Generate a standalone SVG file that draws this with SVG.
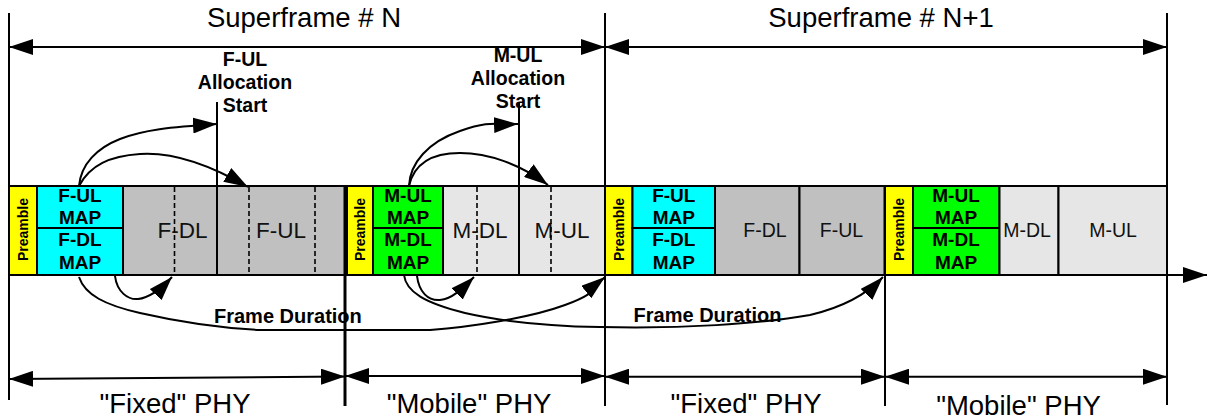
<svg xmlns="http://www.w3.org/2000/svg" width="1207" height="420" viewBox="0 0 1207 420">
<style>
.cell{stroke:#000;stroke-width:2}
.pre{fill:#ffff00}
.cy{fill:#00ffff}
.gn{fill:#00ff00}
.fg{fill:#c0c0c0}
.mg{fill:#e6e6e6}
.ln{stroke:#000;stroke-width:2;fill:none}
.dash{stroke:#000;stroke-width:1.6;stroke-dasharray:5 3;fill:none}
.cv{stroke:#000;stroke-width:2;fill:none;marker-end:url(#ah)}
.dim{stroke:#000;stroke-width:2;fill:none;marker-start:url(#ah);marker-end:url(#ah)}
text{font-family:"Liberation Sans",Arial,Helvetica,sans-serif;fill:#000}
.big{font-size:27.5px;text-anchor:middle}
.lab{font-size:22.5px;text-anchor:middle;fill:#111}
.map{font-size:19px;font-weight:bold;text-anchor:middle}
.pt{font-size:14px;font-weight:bold;text-anchor:middle}
.al{font-size:19.5px;font-weight:bold;text-anchor:middle}
.fd{font-size:20px;font-weight:bold}
</style>
<defs>
<marker id="ah" viewBox="0 0 24 16" refX="24" refY="8" markerWidth="24" markerHeight="16" markerUnits="userSpaceOnUse" orient="auto-start-reverse">
<path d="M0,0 L24,8 L0,16 z" fill="#000"/>
</marker>
</defs>
<rect width="1207" height="420" fill="#fff"/>

<!-- Superframe N -->
<g id="preamble-1">
<rect class="cell pre" x="9" y="186" width="28" height="89"/>
<text class="pt" transform="translate(27.5,229.5) rotate(-90)">Preamble</text>
</g>
<g id="fmap-1">
<rect class="cell cy" x="37" y="186" width="86" height="42"/>
<rect class="cell cy" x="37" y="228" width="86" height="47"/>
<text class="map" x="80" y="202.3">F-UL</text>
<text class="map" x="80" y="224">MAP</text>
<text class="map" x="80" y="246">F-DL</text>
<text class="map" x="80" y="269.3">MAP</text>
</g>
<g id="fdl-1">
<rect class="cell fg" x="123" y="186" width="94" height="89"/>
<text class="lab" x="182.5" y="238.3">F-DL</text>
<line class="dash" x1="174.5" y1="187" x2="174.5" y2="274"/>
</g>
<g id="ful-1">
<rect class="cell fg" x="217" y="186" width="128" height="89"/>
<text class="lab" x="281" y="238.3">F-UL</text>
<line class="dash" x1="249" y1="187" x2="249" y2="274"/>
<line class="dash" x1="315" y1="187" x2="315" y2="274"/>
</g>
<g id="preamble-2">
<rect class="cell pre" x="347" y="186" width="26" height="89"/>
<text class="pt" transform="translate(364.5,229.5) rotate(-90)">Preamble</text>
</g>
<g id="mmap-1">
<rect class="cell gn" x="373" y="186" width="70" height="42"/>
<rect class="cell gn" x="373" y="228" width="70" height="47"/>
<text class="map" x="408" y="202.3">M-UL</text>
<text class="map" x="408" y="224">MAP</text>
<text class="map" x="408" y="246">M-DL</text>
<text class="map" x="408" y="269.3">MAP</text>
</g>
<g id="mdl-1">
<rect class="cell mg" x="443" y="186" width="76" height="89"/>
<text class="lab" x="480" y="238">M-DL</text>
<line class="dash" x1="477" y1="187" x2="477" y2="274"/>
</g>
<g id="mul-1">
<rect class="cell mg" x="519" y="186" width="86" height="89"/>
<text class="lab" x="562" y="238">M-UL</text>
<line class="dash" x1="551" y1="187" x2="551" y2="274"/>
</g>

<!-- Superframe N+1 -->
<g id="preamble-3">
<rect class="cell pre" x="605" y="186" width="27.5" height="89"/>
<text class="pt" transform="translate(623.5,229.5) rotate(-90)">Preamble</text>
</g>
<g id="fmap-2">
<rect class="cell cy" x="632.5" y="186" width="82.5" height="42"/>
<rect class="cell cy" x="632.5" y="228" width="82.5" height="47"/>
<text class="map" x="673.8" y="202.3">F-UL</text>
<text class="map" x="673.8" y="224">MAP</text>
<text class="map" x="673.8" y="246">F-DL</text>
<text class="map" x="673.8" y="269.3">MAP</text>
</g>
<g id="fdl-2">
<rect class="cell fg" x="715" y="186" width="84.5" height="89"/>
<text class="lab" x="765" y="236.7" style="font-size:19.5px">F-DL</text>
</g>
<g id="ful-2">
<rect class="cell fg" x="799.5" y="186" width="85" height="89"/>
<text class="lab" x="841.5" y="236.7" style="font-size:19.5px">F-UL</text>
</g>
<g id="preamble-4">
<rect class="cell pre" x="885" y="186" width="28" height="89"/>
<text class="pt" transform="translate(903.5,229.5) rotate(-90)">Preamble</text>
</g>
<g id="mmap-2">
<rect class="cell gn" x="913" y="186" width="86.5" height="42"/>
<rect class="cell gn" x="913" y="228" width="86.5" height="47"/>
<text class="map" x="956" y="202.3">M-UL</text>
<text class="map" x="956" y="224">MAP</text>
<text class="map" x="956" y="246">M-DL</text>
<text class="map" x="956" y="269.3">MAP</text>
</g>
<g id="mdl-2">
<rect class="cell mg" x="999.5" y="186" width="59" height="89"/>
<text class="lab" x="1027" y="236.7" style="font-size:19.5px">M-DL</text>
</g>
<g id="mul-2">
<rect class="cell mg" x="1058.5" y="186" width="108.5" height="89"/>
<text class="lab" x="1113" y="236.7" style="font-size:19.5px">M-UL</text>
</g>

<!-- labels -->
<g id="superframe-n"><text class="big" x="304" y="26.7">Superframe # N</text></g>
<g id="superframe-n1"><text class="big" x="881" y="26.7">Superframe # N+1</text></g>
<g id="ful-alloc-start">
<text class="al" x="245" y="66">F-UL</text>
<text class="al" x="245" y="89">Allocation</text>
<text class="al" x="245" y="112">Start</text>
</g>
<g id="mul-alloc-start">
<text class="al" x="518" y="61.5">M-UL</text>
<text class="al" x="518" y="84.5">Allocation</text>
<text class="al" x="518" y="107.5">Start</text>
</g>
<g id="frame-duration-1"><text class="fd" x="214" y="322.7">Frame Duration</text></g>
<g id="frame-duration-2"><text class="fd" x="633.6" y="321.7">Frame Duration</text></g>
<g id="fixed-phy-1"><text class="big" x="175" y="413">"Fixed" PHY</text></g>
<g id="mobile-phy-1"><text class="big" x="469" y="413">"Mobile" PHY</text></g>
<g id="fixed-phy-2"><text class="big" x="746" y="413">"Fixed" PHY</text></g>
<g id="mobile-phy-2"><text class="big" x="1018.5" y="415">"Mobile" PHY</text></g>

<!-- connectors -->
<g id="connectors">
<line class="ln" x1="9" y1="13" x2="9" y2="400"/>
<line class="ln" x1="217" y1="102" x2="217" y2="275"/>
<line class="ln" x1="345" y1="186" x2="345" y2="406" style="stroke-width:3"/>
<line class="ln" x1="519" y1="103" x2="519" y2="275"/>
<line class="ln" x1="605" y1="13" x2="605" y2="406"/>
<line class="ln" x1="885" y1="275" x2="885" y2="406"/>
<line class="ln" x1="1167" y1="13" x2="1167" y2="405"/>
<line class="ln" x1="9" y1="275" x2="1207" y2="275" style="marker-end:url(#ah)"/>

<line class="dim" x1="9" y1="47" x2="605" y2="47"/>
<line class="dim" x1="605" y1="47" x2="1167" y2="47"/>
<line class="dim" x1="9" y1="379" x2="345" y2="376.5"/>
<line class="dim" x1="345" y1="376" x2="605" y2="376"/>
<line class="dim" x1="605" y1="376.7" x2="885" y2="376.7"/>
<line class="dim" x1="885" y1="376.7" x2="1167" y2="376.7"/>

<path class="cv" d="M79,186 C81,164 97,148 120,139 S170,127 217,124"/>
<path class="cv" d="M79,186 C90,165 110,156 140,154 S205,162 248,187"/>
<path class="cv" d="M409,186 C410,163 428,142 460,131 S495,125 518,124"/>
<path class="cv" d="M409,186 C414,164 432,153 460,153 S520,164 548,185"/>
<path class="cv" d="M115,276 C117,292 128,300 138,299 S160,290 172,277"/>
<path class="cv" d="M79,277 C85,295 105,305 140,313 S220,328 260,330 L430,330 C470,327 530,318 565,305 S590,289 605,277"/>
<path class="cv" d="M417,276 C419,292 428,301 440,300 S462,289 474,277"/>
<path class="cv" d="M404,275 C406,292 425,303 465,313 C500,321 540,326 600,327 C680,329 760,324 810,315 C840,308 865,296 883,277"/>
</g>
</svg>
